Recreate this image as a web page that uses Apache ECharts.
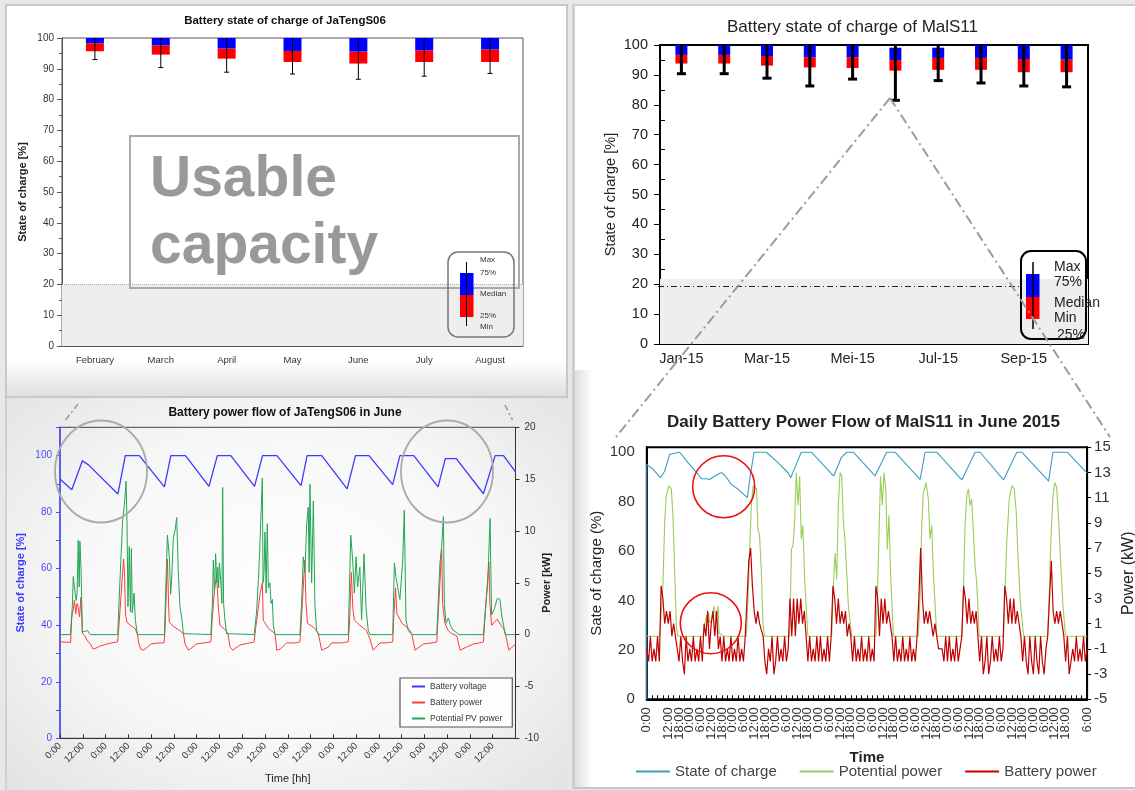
<!DOCTYPE html>
<html>
<head>
<meta charset="utf-8">
<script src="https://cdn.jsdelivr.net/npm/echarts@6/dist/echarts.min.js"></script>
<style>
html, body { margin: 0; padding: 0; }
body { width: 1135px; height: 790px; position: relative; overflow: hidden; background: #e8e8e8; }
.panel, .chart { position: absolute; box-sizing: border-box; }
#p1 { left: 5px; top: 4px; width: 563px; height: 394px; border: 2px solid #c8c8c8; background: linear-gradient(to bottom, #fff 0%, #fff 91%, #e0e0e0 100%); }
#p3 { left: 5px; top: 398px; width: 563px; height: 392px; border-left: 2px solid #d0d0d0; background: radial-gradient(ellipse at 50% 48%, #fefefe 0%, #f7f7f7 55%, #e2e2e2 100%); }
#p2 { left: 572px; top: 4px; width: 563px; height: 785px; border-left: 3px solid #cfcfcf; border-top: 2px solid #cfcfcf; border-bottom: 2px solid #c4c4c4; background: #fff; }
#p4 { left: 575px; top: 370px; width: 40px; height: 417px; background: linear-gradient(to right, #dedede 0px, #fff 18px); }
#c1 { left: 0; top: 0; width: 570px; height: 398px; }
#c2 { left: 570px; top: 0; width: 565px; height: 398px; }
#c3 { left: 0; top: 398px; width: 570px; height: 392px; }
#c4 { left: 570px; top: 398px; width: 565px; height: 392px; }
#ov { left: 0; top: 0; width: 1135px; height: 790px; pointer-events: none; }
</style>
</head>
<body>
<div class="panel" id="p1"></div>
<div class="panel" id="p3"></div>
<div class="panel" id="p2"></div>
<div class="panel" id="p4"></div>
<div class="chart" id="c1"></div>
<div class="chart" id="c2"></div>
<div class="chart" id="c3"></div>
<div class="chart" id="c4"></div>
<div class="chart" id="ov"></div>
<script>
const FONT = 'Liberation Sans';

// monthly SOC statistics, JaTengS06
const jtMonths = ['February', 'March', 'April', 'May', 'June', 'July', 'August'];
const jtMin = [93.0, 90.4, 88.9, 88.3, 86.6, 87.6, 88.5];
const jtQ25 = [95.7, 94.6, 93.3, 92.2, 91.7, 92.2, 92.2];
const jtMed = [98.3, 97.6, 96.6, 95.8, 95.6, 96.0, 96.3];
const jtQ75 = [100, 100, 100, 100, 100, 100, 100];
const jtMax = [100, 100, 100, 100, 100, 100, 100];

// monthly SOC statistics, MalS11
const msMonths = ['Jan-15', 'Feb-15', 'Mar-15', 'Apr-15', 'Mei-15', 'Jun-15', 'Jul-15', 'Aug-15', 'Sep-15', 'Okt-15'];
const msMin = [90.4, 90.4, 88.9, 86.3, 88.6, 81.5, 88.1, 87.3, 86.3, 86.0];
const msQ25 = [93.8, 93.8, 93.1, 92.5, 92.3, 91.4, 91.7, 91.7, 90.9, 90.9];
const msMed = [96.7, 96.7, 96.3, 95.9, 95.9, 95.0, 95.7, 95.7, 95.3, 95.1];
const msQ75 = [100, 100, 100, 100, 100, 99.1, 99.1, 100, 100, 100];
const msMax = [100, 100, 100, 100, 100, 100, 100, 100, 100, 100];

// JaTengS06 in June: [hour, value]
const socJT = [[0,91.7],[6.2,87.9],[11.8,98.2],[15,96.7],[30.5,86.4],[34.4,100],[41.8,100],[55,88.9],[58.4,100],[66.1,100],
  [78.5,89.1],[82.9,100],[90,100],[102.5,89.1],[106.7,100],[114.3,100],[127,89.4],[130.2,100],[137.9,100],[151.3,88.2],
  [155.7,100],[162.8,100],[175.3,89.7],[179.1,100],[186.4,100],[199.2,88.9],[203,98.9],[208.8,98.9],[223.1,86.5],
  [229.3,100],[233.7,100],[240,94.2]];
const pvJT = [[0,0],[5.5,0],[6.5,2.7],[7,5.6],[7.8,4.3],[8.5,3.3],[9,4],[9.6,9.1],[10.1,4.6],[10.5,9],[11.1,6.2],[11.8,0.3],[13,0.3],[14.5,0.4],[16,0],
  [30.4,0],[32,6.9],[33,11],[34.1,12.9],[34.8,14.8],[35.3,11],[35.8,2.7],[36.5,8.5],[37.1,2.2],[37.6,8.3],[38.1,2.1],[39,4],[39.7,1.4],[40.3,1.4],[40.8,0],
  [55,0],[56.6,9.6],[57.6,7.5],[58.3,3.9],[59,6],[59.7,9.3],[60.6,10],[61.5,11.3],[62.3,6.2],[63.2,2.7],[64.1,1.7],[65,0.1],[65.3,0],
  [79.5,0],[80.3,3],[80.8,7.2],[81.4,4],[82,7.8],[82.6,5],[83.1,6.5],[83.6,4.5],[84,6.9],[84.7,5.2],[85.3,3],[85.7,14.2],[86.2,3],[86.9,1.4],[87.8,0.1],[88,0],
  [102.3,0],[103.5,2],[104.5,5.2],[105.2,8],[105.8,11],[106.6,15.1],[107,5],[107.5,6],[108,9.9],[108.6,4],[109.2,10.7],[109.8,4.5],[110.6,5],[111.2,3],[111.9,3.4],[112.4,0.9],[113.3,0],
  [126.4,0],[127.3,3],[128.2,7.5],[129,6],[130,10.7],[130.8,12.3],[131.3,6],[131.7,14.5],[132.6,5],[133.5,12.9],[134.3,2.9],[135.2,0.4],[136.1,0],
  [151.9,0],[153.2,9.6],[154.2,7.2],[155.1,4],[156,7.5],[156.8,4.6],[158,6.5],[158.9,1.4],[160.2,7.8],[161.2,2.7],[162.4,0.4],[163.3,0],
  [175.3,0],[176.2,6.9],[177,5.6],[177.9,4.6],[179.1,3.4],[180.6,7.2],[181.4,12],[182.3,1.4],[183.5,0.4],[185.3,0],
  [198.5,0],[200.2,6.9],[201.1,8.5],[202,11.4],[202.5,3],[203.4,1.1],[204.6,1.6],[205.9,0.8],[207.2,0.4],[209,0.2],[209.9,0],
  [223.1,0],[225.4,5.1],[226.6,11.2],[227.4,1.9],[228.9,2.5],[230.4,3.5],[231.8,3.4],[232.7,1.9],[233.7,0.9],[234.6,0],[240,0]];
const batJT = [[0,-0.7],[5.6,-0.75],[6.2,1.7],[7,2.5],[7.6,3.3],[8.3,2],[8.9,3],[9.5,2.7],[10.3,1.7],[11,3.6],[11.8,0.1],[13,-0.1],[14.5,-0.6],[16,-0.9],[17.5,-1.4],[19,-1.3],[21,-1.1],[24,-0.95],[27,-0.8],
  [30.3,-0.7],[30.8,0.2],[33.5,7.3],[34,6],[34.5,2],[35.3,1.2],[37,0.9],[39.5,0.6],[40.7,0.1],[41.5,-0.8],[42.5,-1.4],[44,-1.5],[46,-1.2],[48,-0.9],[52,-0.8],
  [54.8,-0.8],[55.3,0.3],[56.6,7.3],[57.2,3],[57.6,1.2],[59.7,0.8],[62.3,0.5],[65,0.1],[65.9,-0.9],[67.6,-1.5],[70,-1.2],[72,-0.9],[76,-0.8],
  [79.5,-0.7],[80.2,1.5],[81.5,4.5],[82.5,5.7],[83.5,2.5],[84.3,0.9],[86.9,0.5],[88.5,0.1],[89.6,-1.2],[91,-1.5],[94.8,-1],[100,-0.8],
  [102.3,-0.7],[103,0.5],[105.5,4],[106.6,5],[107.1,1.4],[109.8,0.6],[113.3,0.1],[114.2,-1.5],[116,-1.4],[119.4,-0.8],[124,-0.8],
  [126.4,-0.7],[127,0.8],[129,7.2],[129.6,3],[130.4,1.1],[134.3,0.6],[136.1,0.1],[137.9,-1.5],[141.4,-1.2],[143.1,-0.8],[148,-0.8],
  [151.9,-0.7],[152.5,1],[153.5,6],[154.3,2.5],[155.1,1.4],[158,0.9],[161.5,0.4],[163.3,-0.4],[165,-1.5],[168.6,-0.8],[172,-0.8],
  [175.3,-0.7],[175.8,1.5],[176.8,4.5],[177.5,2],[178.5,1.7],[180.2,1.1],[183.5,0.6],[185.3,0.1],[187.1,-1.5],[191.5,-0.9],[196,-0.8],
  [198.5,-0.7],[199.3,2],[201.1,8.2],[201.6,3],[202.8,1.1],[204.5,0.4],[206.3,0.1],[209,-0.1],[210.8,-1.5],[214.2,-1.2],[217.9,-0.9],[221,-0.8],
  [223.1,-0.7],[224,2],[226,7],[226.5,3],[227.4,0.9],[230.4,1.5],[232,1],[233.7,0.6],[234.8,0],[236.5,-1.5],[240,-0.9]];

// MalS11 in June 2015
const socMS = [[0,0],[0,95.1],[3.5,93.1],[7.7,89.7],[10,92.4],[12.8,99.2],[13.7,100],[18.4,100],[23,95.8],[28.6,91.1],[30.5,89.3],
  [33.3,89.3],[35.1,89],[37.5,90.1],[40.7,91.5],[42,91.7],[43.9,90.4],[47.2,87],[51,85],[56.2,81.6],[57.5,89],[59.9,100],
  [66.8,100],[73.3,95.8],[78.9,91.7],[80.4,89.7],[83.5,95.1],[86.3,100],[91.9,100],[97.5,95.8],[103.1,91.3],[104.4,90.4],
  [106.8,94.5],[108.7,97.9],[111.7,100],[115.4,100],[127.5,90.4],[134,100],[138.7,100],[152.7,89],[155.5,100],[162,100],
  [176,88.8],[183.4,100],[186.2,100],[199.3,88.8],[206.7,100],[209.5,100],[224.5,88.3],[226.9,100],[234.9,100],[246,91.5]];
const pvMS = [[0,0],[7.2,0],[8.2,2],[9.1,4.5],[10,9.1],[10.9,11.2],[12.4,11.95],[13.7,11.7],[14.6,9.6],[15.6,5.1],[16.5,0.8],[17.4,0],
  [31.4,0],[32.3,0.8],[33.3,1.6],[34.6,1.85],[35.1,1.05],[36.1,1.3],[37.5,2.4],[38.8,1.3],[39.8,2.4],[40.4,0.26],[42.6,0],
  [55.6,0],[56.6,3.2],[57.5,6.9],[58.4,10.4],[59.4,11.95],[61.3,11.7],[62.1,8.5],[63,8],[64,5.1],[64.9,1.05],[65.8,0],
  [79.8,0],[80.8,6.9],[81.7,7.2],[82.6,9.1],[83.5,13],[84.5,10.4],[85.4,12.7],[86.3,7.7],[87.2,8.8],[88.2,4.5],[90,0],
  [103.3,0],[104.2,4],[105.2,6.6],[106.1,4.5],[107,10.4],[108,13],[108.9,12.7],[109.8,9.1],[110.7,7.7],[111.7,5.1],[112.6,2.4],[114.5,0],
  [128,0],[129,4],[129.9,9.1],[130.6,12.7],[131.6,10.4],[132.5,13],[133.5,11.7],[134.4,6.9],[135.3,9.6],[136.3,4.5],[137.8,0],
  [151.7,0],[152.7,3.2],[153.6,8.8],[154.5,11.4],[156,12.2],[157.3,10.9],[158.2,7.7],[159.2,8.8],[160.1,5.1],[162,0],
  [176,0],[176.9,3.7],[177.8,8.8],[178.8,11.2],[179.7,11.7],[180.6,10.4],[181.5,10.9],[182.5,8.2],[183.4,5.6],[184.3,4.3],[185.8,0],
  [199.3,0],[200.2,4],[201.2,7.7],[202.5,10.9],[204,11.95],[205.3,11.7],[206.4,9.9],[207.3,6.6],[208.6,2.9],[210.5,0],
  [223.9,0],[225,4],[226,8.5],[227,11.2],[228,12.2],[229,11.8],[230,9.5],[231,6.5],[232.5,2.5],[233.9,0],[246,0]];
// hourly battery power, hour 0 .. 246
const batMS = [
  -1,-2,0,-2,-1,-2,0,-2, 4,3,1,2,1,2,0,1, 0,0,-2,0,-2,-3,0,-2,
  -1,-2,0,-2,-1,-2,0,-2, 1,0,2,-1,1,2,0,2, -1,0,-2,0,-2,-1,-2,0,
  -2,-1,-2,0,-2,-1,-2,0, 3,6,7,4,2,1,2,1, 1,0,-2,-3,-1,-2,0,-3,
  -2,0,-2,-1,-2,0,-2,-1, 3,0,3,0,3,1,3,1, 2,0,-2,0,-2,-1,-2,0,
  -2,0,-2,-1,-2,0,-2,0, 4,3,1,3,1,2,1,2, 0,1,0,-2,0,-2,-1,-2,
  0,-2,-1,-2,0,-2,-1,-2, 4,3,0,3,1,3,1,2, 1,0,-2,0,-2,-1,-2,0,
  -2,-1,-2,0,-2,-1,-2,0, 3,7,3,1,2,1,2,1, 0,1,0,-1,-1,-1,-2,0,
  -2,0,-2,-1,-2,0,-2,-1, 0,4,3,1,3,1,2,1, 2,0,-2,0,-3,-2,0,-3,
  -2,0,-2,-1,-2,0,-2,-1, 4,3,1,3,1,3,1,2, 1,0,-2,0,-2,-3,0,-2,
  -3,0,-2,-3,0,-2,-3,-1, 0,3,6,2,1,2,1,2, 1,0,-2,0,-3,-2,-1,-2,
  0,-2,-1,-2,0,-2,-1
];

// tick labels
const jtSocLabels = [0, 20, 40, 60, 80, 100];
const jtSocTicks = [0, 10, 20, 30, 40, 50, 60, 70, 80, 90, 100, 110];
const msSocLabels = [0, 20, 40, 60, 80, 100];
const msPowerLabels = [-5, -3, -1, 1, 3, 5, 7, 9, 11, 13, 15];
const msMinorTicks = [5, 15, 25, 35, 45, 55, 65, 75, 85, 95];

function boxRenderer(boxW, lineW, capW) {
  return function (params, api) {
    const i = api.value(0);
    const pMin = api.coord([i, api.value(1)]);
    const p25 = api.coord([i, api.value(2)]);
    const pMed = api.coord([i, api.value(3)]);
    const p75 = api.coord([i, api.value(4)]);
    const pMax = api.coord([i, api.value(5)]);
    const x = pMed[0];
    return {
      type: 'group',
      children: [
        { type: 'rect', shape: { x: x - boxW / 2, y: pMed[1], width: boxW, height: p25[1] - pMed[1] }, style: { fill: '#ff0000' } },
        { type: 'rect', shape: { x: x - boxW / 2, y: p75[1], width: boxW, height: pMed[1] - p75[1] }, style: { fill: '#0000ff' } },
        { type: 'line', shape: { x1: x, y1: pMax[1], x2: x, y2: pMin[1] }, style: { stroke: '#000', lineWidth: lineW } },
        { type: 'line', shape: { x1: x - capW / 2, y1: pMin[1], x2: x + capW / 2, y2: pMin[1] }, style: { stroke: '#000', lineWidth: lineW } }
      ]
    };
  };
}

function label(x, y, text, size, color) {
  return { type: 'text', x: x, y: y, z: 60,
    style: { text: text, font: size + 'px "' + FONT + '"', fill: color || '#222', textVerticalAlign: 'middle', verticalAlign: 'middle' } };
}

// ---------- top left ----------
const c1 = echarts.init(document.getElementById('c1'));
c1.setOption({
  animation: false,
  textStyle: { fontFamily: FONT },
  title: { text: 'Battery state of charge of JaTengS06', left: 'center', top: 15, padding: 0,
    textStyle: { fontSize: 11.5, fontWeight: 'bold', color: '#111' } },
  grid: { left: 62, right: 47, top: 38, bottom: 52, outerBoundsMode: 'none', show: true, borderColor: '#555', borderWidth: 1 },
  xAxis: {
    type: 'category', data: jtMonths,
    axisLine: { lineStyle: { color: '#555' } },
    axisTick: { inside: true, length: 4, interval: 0, lineStyle: { color: '#555' } },
    axisLabel: { fontSize: 9.5, color: '#333', margin: 9, interval: 0 }
  },
  yAxis: {
    type: 'value', min: 0, max: 100, interval: 10,
    name: 'State of charge [%]', nameLocation: 'middle', nameGap: 34, nameMoveOverlap: false,
    nameTextStyle: { fontSize: 11, fontWeight: 'bold', color: '#222' },
    axisLine: { show: true, lineStyle: { color: '#555' } },
    axisTick: { show: true, length: 5, lineStyle: { color: '#555' } },
    minorTick: { show: true, splitNumber: 2, length: 3, lineStyle: { color: '#555' } },
    splitLine: { show: false },
    axisLabel: { fontSize: 10, color: '#333', margin: 8 }
  },
  series: [{
    type: 'custom', renderItem: boxRenderer(18, 1, 5), encode: { x: 0, y: [1, 2, 3, 4, 5] },
    data: jtMonths.map((m, i) => [i, jtMin[i], jtQ25[i], jtMed[i], jtQ75[i], jtMax[i]]),
    markArea: { silent: true, itemStyle: { color: '#eeeeee' }, data: [[{ yAxis: 0 }, { yAxis: 20 }]] },
    markLine: { silent: true, symbol: 'none', label: { show: false },
      lineStyle: { color: '#aaa', type: 'dotted', width: 1 }, data: [{ yAxis: 20 }] }
  }],
  graphic: [
    { type: 'rect', z: 50, shape: { x: 130, y: 136, width: 389, height: 152 }, style: { fill: 'none', stroke: '#aaaaaa', lineWidth: 2 } },
    label(150, 180, 'Usable', 'bold 57', '#999999'),
    label(150, 247, 'capacity', 'bold 57', '#999999'),
    { type: 'rect', z: 55, shape: { x: 448, y: 252, width: 66, height: 85, r: 10 }, style: { fill: 'none', stroke: '#777', lineWidth: 1.5 } },
    { type: 'rect', z: 56, shape: { x: 460, y: 273, width: 13.5, height: 22 }, style: { fill: '#0000ff' } },
    { type: 'rect', z: 56, shape: { x: 460, y: 295, width: 13.5, height: 22 }, style: { fill: '#ff0000' } },
    { type: 'line', z: 57, shape: { x1: 466.5, y1: 262, x2: 466.5, y2: 326 }, style: { stroke: '#000', lineWidth: 1 } },
    label(480, 260, 'Max', 8, '#333'),
    label(480, 273, '75%', 8, '#333'),
    label(480, 294, 'Median', 8, '#333'),
    label(480, 316, '25%', 8, '#333'),
    label(480, 327, 'Min', 8, '#333')
  ]
});

// ---------- top right ----------
const c2 = echarts.init(document.getElementById('c2'));
c2.setOption({
  animation: false,
  textStyle: { fontFamily: FONT },
  title: { text: 'Battery state of charge of MalS11', left: 'center', top: 19, padding: 0,
    textStyle: { fontSize: 17, fontWeight: 'normal', color: '#222' } },
  grid: { left: 90, right: 47, top: 45, bottom: 54, outerBoundsMode: 'none', show: true, borderColor: '#000', borderWidth: 2 },
  xAxis: {
    type: 'category', data: msMonths,
    axisLine: { lineStyle: { color: '#000', width: 2 } },
    axisTick: { inside: true, length: 5, interval: 0, lineStyle: { color: '#000' } },
    axisLabel: { fontSize: 14.5, color: '#222', margin: 7, interval: 1 }
  },
  yAxis: [{
    type: 'value', min: 0, max: 100, interval: 10,
    name: 'State of charge [%]', nameLocation: 'middle', nameGap: 42, nameMoveOverlap: false,
    nameTextStyle: { fontSize: 14.5, color: '#222' },
    axisLine: { show: true, lineStyle: { color: '#000', width: 2 } },
    axisTick: { show: true, length: 6, lineStyle: { color: '#000' } },
    splitLine: { show: false },
    axisLabel: { fontSize: 14.5, color: '#222', margin: 12 }
  }, {
    type: 'value', position: 'left', min: 0, max: 100,
    axisLine: { show: false }, axisLabel: { show: false }, splitLine: { show: false },
    axisTick: { show: true, inside: true, length: 5, customValues: msMinorTicks, lineStyle: { color: '#000' } }
  }],
  series: [{
    type: 'custom', renderItem: boxRenderer(12, 3, 9), encode: { x: 0, y: [1, 2, 3, 4, 5] },
    data: msMonths.map((m, i) => [i, msMin[i], msQ25[i], msMed[i], msQ75[i], msMax[i]]),
    markArea: { silent: true, itemStyle: { color: '#eeeeee' }, data: [[{ yAxis: 0 }, { yAxis: 21.7 }]] },
    markLine: { silent: true, symbol: 'none', label: { show: false },
      lineStyle: { color: '#222', type: [6, 3, 1, 3], width: 1 },
      data: [[{ x: 88, yAxis: 19.2 }, { x: 451, yAxis: 19.2 }]] }
  }],
  graphic: [
    { type: 'rect', z: 55, shape: { x: 451, y: 251, width: 65, height: 88, r: 10 }, style: { fill: 'none', stroke: '#000', lineWidth: 2 } },
    { type: 'rect', z: 56, shape: { x: 456, y: 274, width: 13.5, height: 23 }, style: { fill: '#0000ff' } },
    { type: 'rect', z: 56, shape: { x: 456, y: 297, width: 13.5, height: 22 }, style: { fill: '#ff0000' } },
    { type: 'line', z: 57, shape: { x1: 463, y1: 262, x2: 463, y2: 329 }, style: { stroke: '#000', lineWidth: 1.5 } },
    label(484, 267, 'Max', 14),
    label(484, 282, '75%', 14),
    label(484, 303, 'Median', 14),
    label(484, 318, 'Min', 14),
    label(487, 335, '25%', 14)
  ]
});

// ---------- bottom left ----------
const c3 = echarts.init(document.getElementById('c3'));
c3.setOption({
  animation: false,
  textStyle: { fontFamily: FONT },
  title: { text: 'Battery power flow of JaTengS06 in June', left: 'center', top: 9, padding: 0,
    textStyle: { fontSize: 12, fontWeight: 'bold', color: '#111' } },
  grid: { left: 60, right: 54.5, top: 29.3, bottom: 51.7, outerBoundsMode: 'none', show: true, borderColor: '#444', borderWidth: 1 },
  legend: {
    orient: 'vertical', left: 400, top: 280, padding: [4, 10, 4, 11], itemGap: 7, itemWidth: 13, itemHeight: 10,
    borderColor: '#555', borderWidth: 1.2, backgroundColor: 'rgba(255,255,255,0.9)', borderRadius: 0,
    itemStyle: { opacity: 0 },
    textStyle: { fontSize: 8.5, color: '#333' },
    data: ['Battery voltage', 'Battery power', 'Potential PV power']
  },
  xAxis: {
    type: 'value', min: 0, max: 240, interval: 12,
    name: 'Time [hh]', nameLocation: 'middle', nameGap: 35, nameMoveOverlap: false, nameTextStyle: { fontSize: 11, color: '#222' },
    axisLine: { lineStyle: { color: '#333' } },
    axisTick: { inside: true, length: 4, lineStyle: { color: '#333' } },
    splitLine: { show: false },
    axisLabel: { rotate: 45, fontSize: 9.5, color: '#333', margin: 6, showMinLabel: true, showMaxLabel: false,
      formatter: v => (v % 24 === 0 ? '0:00' : '12:00') }
  },
  yAxis: [{
    type: 'value', position: 'left', min: 0, max: 110,
    name: 'State of charge [%]', nameLocation: 'middle', nameGap: 34, nameMoveOverlap: false,
    nameTextStyle: { fontSize: 11, fontWeight: 'bold', color: '#3a3aff' },
    axisLine: { show: true, lineStyle: { color: '#4a4aff', width: 1.5 } },
    axisTick: { show: true, length: 4, customValues: jtSocTicks, lineStyle: { color: '#4a4aff' } },
    axisLabel: { customValues: jtSocLabels, fontSize: 10, color: '#4a4aff', margin: 8 },
    splitLine: { show: false }
  }, {
    type: 'value', position: 'right', min: -10, max: 20, interval: 5,
    name: 'Power [kW]', nameLocation: 'middle', nameGap: 26, nameMoveOverlap: false,
    nameTextStyle: { fontSize: 11, fontWeight: 'bold', color: '#222' },
    axisLine: { show: true, lineStyle: { color: '#333' } },
    axisTick: { show: true, length: 4, lineStyle: { color: '#333' } },
    axisLabel: { fontSize: 10, color: '#333', margin: 9 },
    splitLine: { show: false }
  }],
  series: [
    { name: 'Battery voltage', type: 'line', yAxisIndex: 0, data: socJT, symbol: 'none',
      lineStyle: { color: '#3b3bff', width: 1.3 }, itemStyle: { color: '#3b3bff' } },
    { name: 'Battery power', type: 'line', yAxisIndex: 1, data: batJT, symbol: 'none',
      lineStyle: { color: '#ff3a3a', width: 1 }, itemStyle: { color: '#ff3a3a' } },
    { name: 'Potential PV power', type: 'line', yAxisIndex: 1, data: pvJT, symbol: 'none',
      lineStyle: { color: '#22a552', width: 1 }, itemStyle: { color: '#22a552' } }
  ],
  graphic: [
    { type: 'circle', x: 101, y: 73.5, scaleX: 46 / 51, z: 60, shape: { cx: 0, cy: 0, r: 51 },
      style: { fill: 'none', stroke: '#aaaaaa', lineWidth: 2, strokeNoScale: true } },
    { type: 'circle', x: 447, y: 73.5, scaleX: 46 / 51, z: 60, shape: { cx: 0, cy: 0, r: 51 },
      style: { fill: 'none', stroke: '#aaaaaa', lineWidth: 2, strokeNoScale: true } },
    { type: 'line', z: 60, shape: { x1: 78, y1: 6, x2: 64, y2: 24 }, style: { stroke: '#999', lineWidth: 1.5, lineDash: [6, 3, 2, 3] } },
    { type: 'line', z: 60, shape: { x1: 505, y1: 7, x2: 512.5, y2: 22 }, style: { stroke: '#999', lineWidth: 1.5, lineDash: [6, 3, 2, 3] } }
  ]
});

// ---------- bottom right ----------
const c4 = echarts.init(document.getElementById('c4'));
c4.setOption({
  animation: false,
  textStyle: { fontFamily: FONT },
  title: { text: 'Daily Battery Power Flow of MalS11 in June 2015', left: 97, top: 16, padding: 0,
    textStyle: { fontSize: 17, fontWeight: 'bold', color: '#222' } },
  grid: { left: 76.8, right: 47.9, top: 49.3, bottom: 90.7, outerBoundsMode: 'none', show: true, borderColor: '#000', borderWidth: 2 },
  legend: {
    left: 65, top: 366, padding: 0, itemWidth: 34, itemHeight: 12, itemGap: 22,
    itemStyle: { opacity: 0 },
    textStyle: { fontSize: 15, color: '#444' },
    data: ['State of charge', 'Potential power', 'Battery power']
  },
  xAxis: {
    type: 'value', min: 0, max: 246, interval: 6,
    name: 'Time', nameLocation: 'middle', nameGap: 51, nameMoveOverlap: false,
    nameTextStyle: { fontSize: 15, fontWeight: 'bold', color: '#222' },
    axisLine: { lineStyle: { color: '#000', width: 2 } },
    axisTick: { inside: true, length: 4, lineStyle: { color: '#000' } },
    minorTick: { show: true, splitNumber: 2, length: 4, lineStyle: { color: '#000' } },
    splitLine: { show: false },
    axisLabel: { rotate: 90, fontSize: 13, color: '#333', margin: 8, showMinLabel: true, showMaxLabel: true,
      formatter: v => (v % 24) + ':00' }
  },
  yAxis: [{
    type: 'value', position: 'left', min: 0, max: 102,
    name: 'Sate of charge (%)', nameLocation: 'middle', nameGap: 42, nameMoveOverlap: false,
    nameTextStyle: { fontSize: 15, color: '#222' },
    axisLine: { show: true, lineStyle: { color: '#000', width: 2 } },
    axisTick: { show: false },
    axisLabel: { customValues: msSocLabels, fontSize: 15, color: '#333', margin: 12 },
    splitLine: { show: false }
  }, {
    type: 'value', position: 'right', min: -5, max: 15,
    name: 'Power (kW)', nameLocation: 'middle', nameGap: 33.5, nameMoveOverlap: false,
    nameTextStyle: { fontSize: 16, color: '#222' },
    axisLine: { show: true, lineStyle: { color: '#000', width: 2 } },
    axisTick: { show: true, length: 4, customValues: msPowerLabels, lineStyle: { color: '#000' } },
    axisLabel: { customValues: msPowerLabels, fontSize: 15, color: '#333', margin: 7 },
    splitLine: { show: false }
  }],
  series: [
    { name: 'State of charge', type: 'line', yAxisIndex: 0, data: socMS, symbol: 'none',
      lineStyle: { color: '#3a9dbf', width: 1.1 }, itemStyle: { color: '#3a9dbf' } },
    { name: 'Potential power', type: 'line', yAxisIndex: 1, data: pvMS, symbol: 'none',
      lineStyle: { color: '#9acd5a', width: 1.1 }, itemStyle: { color: '#9acd5a' } },
    { name: 'Battery power', type: 'line', yAxisIndex: 1, data: batMS.map((v, i) => [i, v]), symbol: 'none',
      lineStyle: { color: '#c00000', width: 1.2 }, itemStyle: { color: '#c00000' } }
  ],
  graphic: [
    { type: 'circle', z: 60, shape: { cx: 153.7, cy: 88.7, r: 31 }, style: { fill: 'none', stroke: '#ee1111', lineWidth: 1.6 } },
    { type: 'circle', z: 60, shape: { cx: 140.8, cy: 225.2, r: 30.5 }, style: { fill: 'none', stroke: '#ee1111', lineWidth: 1.6 } }
  ]
});

// ---------- zoom lines across panels ----------
const ov = echarts.init(document.getElementById('ov'));
ov.setOption({
  animation: false,
  graphic: [
    { type: 'line', shape: { x1: 890, y1: 98, x2: 616, y2: 437 }, style: { stroke: '#a39a90', lineWidth: 2, lineDash: [10, 4, 2, 4] } },
    { type: 'line', shape: { x1: 890, y1: 98, x2: 1110, y2: 437 }, style: { stroke: '#a39a90', lineWidth: 2, lineDash: [10, 4, 2, 4] } }
  ]
});
</script>
</body>
</html>
